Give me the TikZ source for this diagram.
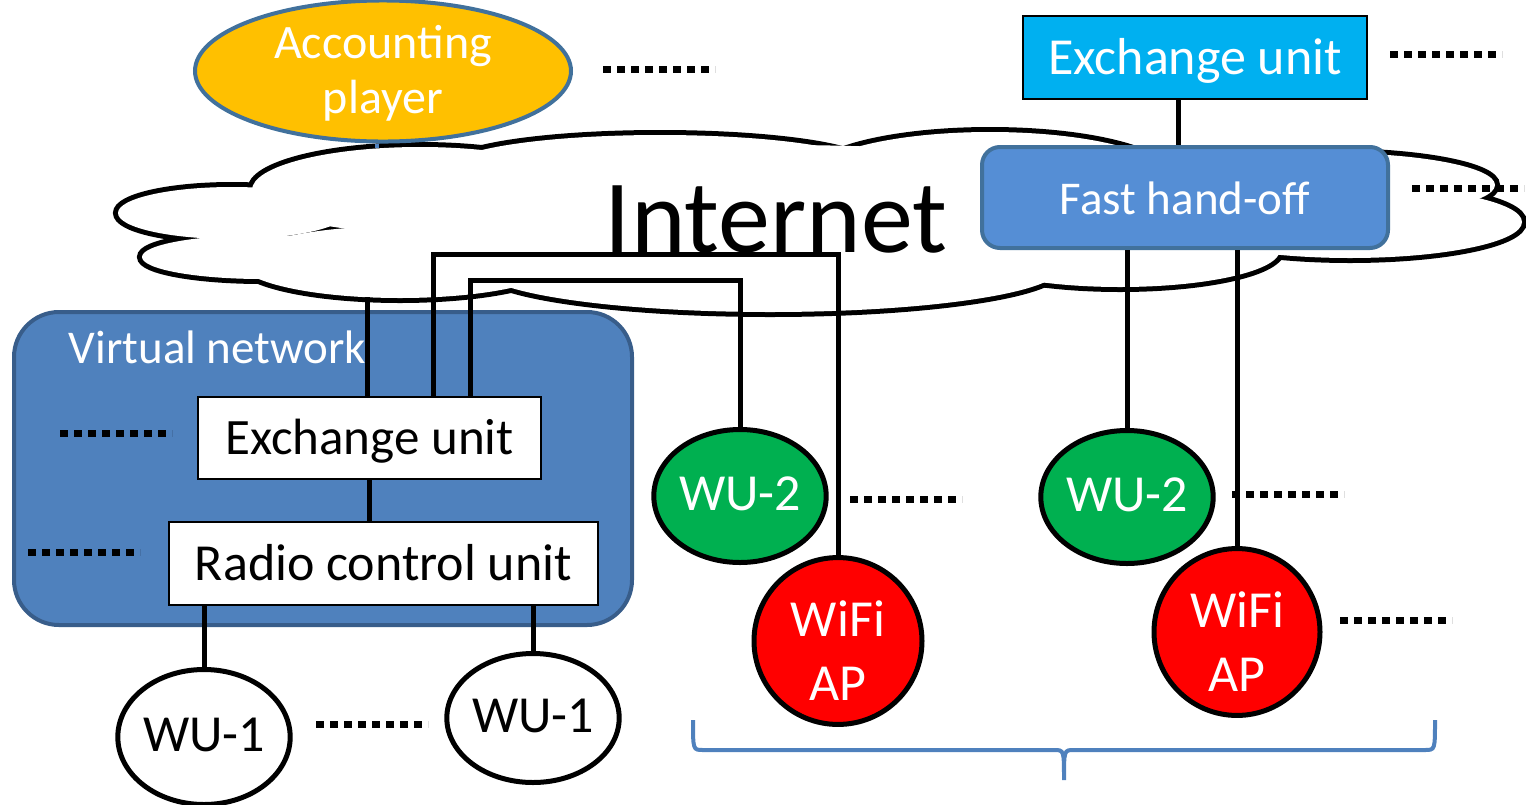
\documentclass[tikz,border=0pt]{standalone}
\usepackage{fontspec}
\setmainfont{Carlito}
\usepackage{tikz}
\usetikzlibrary{positioning,shapes.geometric,calc}
\definecolor{gold}{HTML}{FFC000}
\definecolor{accedge}{HTML}{41719C}
\definecolor{skyblue}{HTML}{00B0F0}
\definecolor{fhblue}{HTML}{558ED5}
\definecolor{vnblue}{HTML}{4F81BD}
\definecolor{vnedge}{HTML}{385D8A}
\definecolor{wugreen}{HTML}{00B050}
\newcommand{\cloudlobes}{232/213/114/26, 262/257/120/22, 420/190/168/43, 660/167/210/32, 990/178/180/46, 1330/185/165/32, 1350/222/172/36, 1120/250/160/37, 770/268/290/44, 400/262/160/36}

\begin{document}
\begin{tikzpicture}[x=1pt, y=-1pt, line width=5pt,
    box/.style={draw, line width=1.5pt, inner sep=0pt, minimum width=343pt, minimum height=82pt,
      text height=38pt, text depth=5pt, font=\fontsize{51}{60}\selectfont},
    unit/.style={ellipse, draw, line width=5pt, inner sep=0pt, minimum width=166pt, minimum height=133pt,
      text=white, font=\fontsize{52}{64}\selectfont},
    one/.style={text height=36pt, text depth=8pt},
    more/.style={line width=7pt, dash pattern=on 8pt off 6pt},
    brace/.style={draw=vnblue, line width=4pt}]
  \useasboundingbox (0,0) rectangle (1526,804);
  % cloud
  \foreach \cx/\cy/\rx/\ry in \cloudlobes
    \draw[line width=10pt] (\cx,\cy) ellipse [x radius=\rx pt, y radius=\ry pt];
  \foreach \cx/\cy/\rx/\ry in \cloudlobes
    \fill[white] (\cx,\cy) ellipse [x radius=\rx pt, y radius=\ry pt];
  \fill[white] (780,215) ellipse [x radius=420pt, y radius=70pt];
  \node[font=\fontsize{104}{120}\selectfont, anchor=base] (inet) at (776,252) {Internet};

  % virtual network
  \node[draw=vnedge, fill=vnblue, line width=4pt, rounded corners=45pt, minimum width=618pt, minimum height=313pt] (vn) at (323,468.5) {};
  \node[text=white, anchor=base west, font=\fontsize{47}{56}\selectfont] (vnlab) at (63,363) {Virtual network};
  \node[box, fill=white] (exl) at (369.5,438) {Exchange unit};
  \node[box, fill=white, minimum width=429pt, minimum height=83pt, font=\fontsize{52}{60}\selectfont] (rcu) at (383.5,563.5) {Radio control unit};
  \node[unit, one, fill=white, text=black, minimum width=168pt, minimum height=135pt] (wu1a) at (204,737) {WU-1};
  \node[unit, one, fill=white, text=black, minimum height=129pt] (wu1b) at (533,718) {WU-1};

  % top row
  \node[ellipse, draw=accedge, fill=gold, line width=4pt, inner sep=0pt, minimum width=376pt, minimum height=114pt,
    text=white, align=center, font=\fontsize{48}{55}\selectfont] (acc) at (383,71) {\rule{0pt}{37pt}Accounting\\player};
  \node[box, fill=skyblue, text=white, minimum width=344pt, minimum height=83pt, font=\fontsize{52}{60}\selectfont] (exr) at (1195,57.5) {Exchange unit};
  \node[box, draw=accedge, fill=fhblue, line width=4pt, rounded corners=18pt, minimum width=406pt, minimum height=101pt,
    text=white, font=\fontsize{47}{56}\selectfont] (fho) at (1185,197.5) {Fast hand-off};

  % wireless units
  \node[unit, one, fill=wugreen] (wu2a) at (740,496) {WU-2};
  \node[unit, fill=red, minimum width=168pt, align=center] (wifia) at (838,641) {\rule{0pt}{54pt}WiFi\\AP};
  \node[unit, one, fill=wugreen] (wu2b) at (1127,497) {WU-2};
  \node[unit, fill=red, align=center] (wifib) at (1237,632) {\rule{0pt}{54pt}WiFi\\AP};

  % links
  \coordinate (j0) at (367,297);
  \coordinate (j1) at (433,254);
  \coordinate (j2) at (470,280);
  \coordinate (apc) at (377,148);
  \coordinate (k) at (1178,0);
  \draw[draw=vnblue, line width=4pt] (acc.south -| apc) -- (apc);
  \draw (exl.north -| j0) -- (j0);
  \draw (exl.north -| j1) -- (j1) -| (wifia.north);
  \draw (exl.north -| j2) -- (j2) -| (wu2a.north);
  \draw (exl.south) -- (exl.south |- rcu.north);
  \draw (wu1a.north |- rcu.south) -- (wu1a.north);
  \draw (wu1b.north |- rcu.south) -- (wu1b.north);
  \draw (exr.south -| k) -- (fho.north -| k);
  \draw (fho.south -| wu2b) -- (wu2b.north);
  \draw (fho.south -| wifib) -- (wifib.north);

  % and so on
  \foreach \x/\y in {603/69, 1390/54, 1412/188, 60/433, 28/552, 850/499, 1232/494, 1340/620, 316/724}
    \draw[more] (\x,\y) -- ++(112,0);

  \draw[brace] (693,720) .. controls (693,750) .. (703,750) -- (1054,750) .. controls (1064,750) .. (1064,780)
    .. controls (1064,750) .. (1074,750) -- (1425,750) .. controls (1435,750) .. (1435,720);
\end{tikzpicture}
\end{document}
